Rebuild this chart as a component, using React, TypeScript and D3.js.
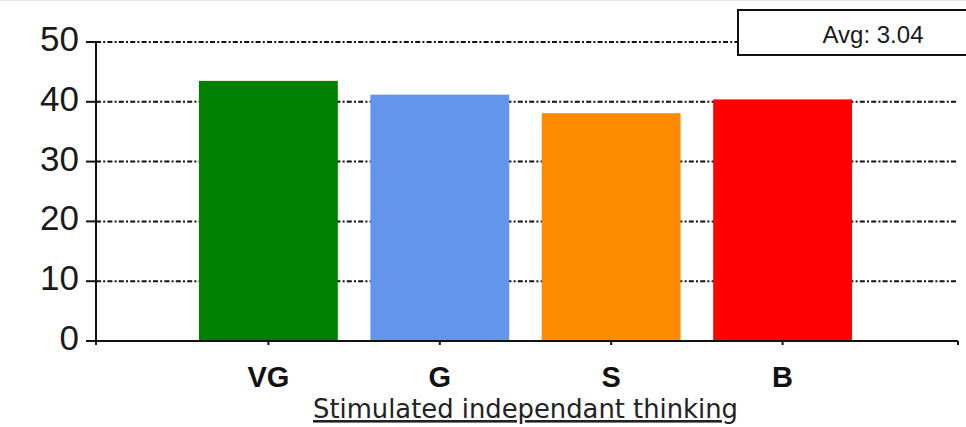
import React from "react";
import * as d3 from "d3";

const categories = ["VG", "G", "S", "B"];
const values = [43.5, 41.2, 38.1, 40.4];
const colors = ["#008000", "#6495ED", "#FF8C00", "#FF0000"];
const yTicks = [0, 10, 20, 30, 40, 50];
const avgLabel = "Avg: 3.04";
const axisTitle = "Stimulated independant thinking";

const W = 966;
const H = 427;

export default function App() {
  const x = d3.scalePoint<string>().domain(categories).range([97, 954]).padding(1);
  const y = d3.scaleLinear().domain([0, 50]).range([341, 42]);
  const step = x.step();
  const barW = step * 0.81;
  const axisLeft = 96;
  const axisRight = 958;
  const tickXs = [axisLeft, ...categories.map((c) => x(c) as number), axisRight];

  return (
    <div style={{ position: "absolute", left: 0, top: 0, width: W, height: H, background: "#fff" }}>
      <svg width={W} height={H} style={{ display: "block" }}>
        <rect x={0} y={0} width={W} height={H} fill="#fff" />
        <line x1={0} x2={W} y1={0.5} y2={0.5} stroke="#e8e8e8" strokeWidth={1} />
        {/* gridlines */}
        {yTicks.filter((t) => t > 0).map((t) => (
          <line
            key={"g" + t}
            x1={axisLeft}
            x2={956}
            y1={y(t)}
            y2={y(t)}
            stroke="#111"
            strokeWidth={2}
            strokeDasharray="5,2.2,2,2.2"
          />
        ))}
        {/* bars */}
        {categories.map((c, i) => (
          <rect
            key={c}
            x={(x(c) as number) - barW / 2}
            y={y(values[i])}
            width={barW}
            height={y(0) - y(values[i])}
            fill={colors[i]}
          />
        ))}
        {/* y axis */}
        <line x1={axisLeft} x2={axisLeft} y1={y(50)} y2={y(0)} stroke="#111" strokeWidth={2} />
        {yTicks.map((t) => (
          <g key={"t" + t}>
            <line x1={86} x2={axisLeft} y1={y(t)} y2={y(t)} stroke="#111" strokeWidth={2} />
            <text
              x={79}
              y={y(t) + 9}
              textAnchor="end"
              fontFamily="'Liberation Sans', Arial, sans-serif"
              fontSize={35}
              fill="#1a1a1a"
            >
              {t}
            </text>
          </g>
        ))}
        {/* x axis */}
        <line x1={axisLeft} x2={axisRight} y1={y(0)} y2={y(0)} stroke="#111" strokeWidth={2} />
        {tickXs.map((tx, i) => (
          <line key={"xt" + i} x1={tx} x2={tx} y1={y(0)} y2={y(0) + 4} stroke="#111" strokeWidth={2} />
        ))}
        {categories.map((c) => (
          <text
            key={"l" + c}
            x={x(c) as number}
            y={387}
            textAnchor="middle"
            fontFamily="'Liberation Sans', Arial, sans-serif"
            fontWeight="bold"
            fontSize={29}
            fill="#111"
          >
            {c}
          </text>
        ))}
        <text
          x={525.5}
          y={418}
          textAnchor="middle"
          fontFamily="'DejaVu Sans Condensed', 'DejaVu Sans', sans-serif"
          fontSize={26}
          fill="#222"
          textLength={425}
          lengthAdjust="spacingAndGlyphs"
          style={{ textDecoration: "underline" }}
        >
          {axisTitle}
        </text>
        {/* avg box */}
        <rect x={738} y={10} width={240} height={45} fill="#fff" stroke="#111" strokeWidth={2} />
        <text
          x={873}
          y={43}
          textAnchor="middle"
          fontFamily="'Liberation Sans', Arial, sans-serif"
          fontSize={24}
          fill="#1a1a1a"
        >
          {avgLabel}
        </text>
      </svg>
    </div>
  );
}
